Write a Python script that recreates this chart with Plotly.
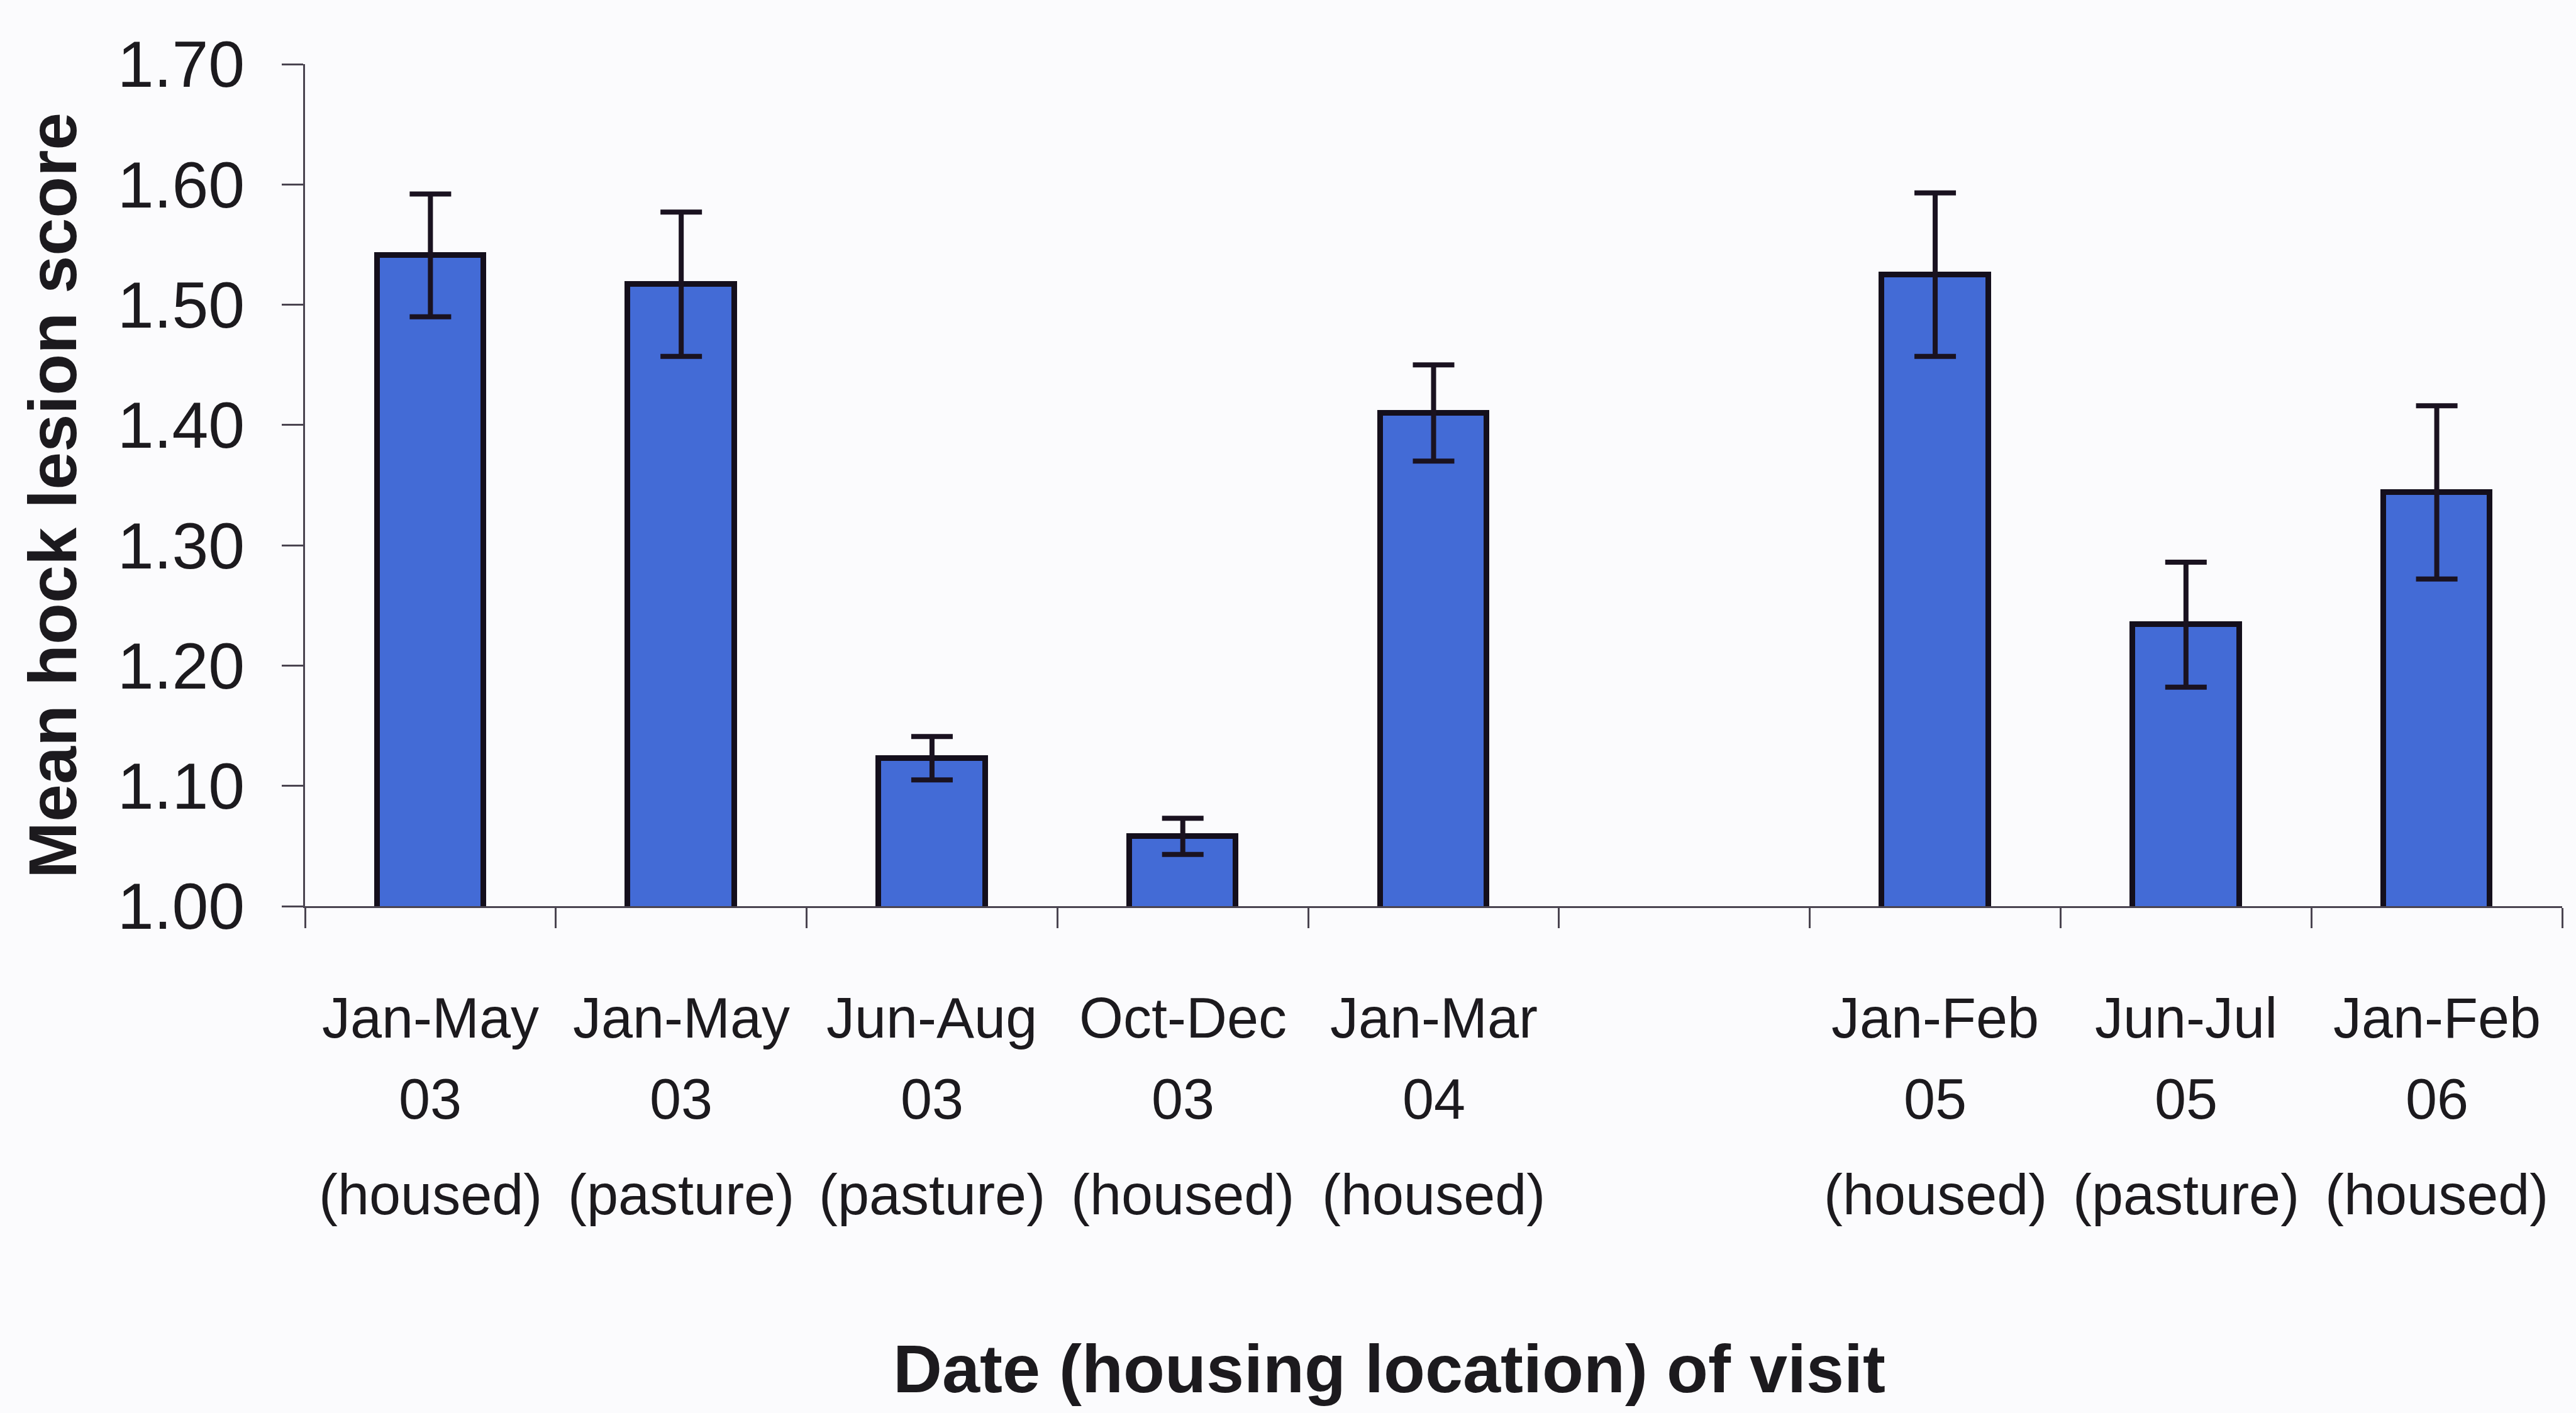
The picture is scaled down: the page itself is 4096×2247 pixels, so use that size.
import plotly.graph_objects as go

# ---- data ----
periods   = ["Jan-May", "Jan-May", "Jun-Aug", "Oct-Dec", "Jan-Mar", "", "Jan-Feb", "Jun-Jul", "Jan-Feb"]
years     = ["03", "03", "03", "03", "04", "", "05", "05", "06"]
locations = ["(housed)", "(pasture)", "(pasture)", "(housed)", "(housed)", "", "(housed)", "(pasture)", "(housed)"]
mean_score = [1.541, 1.517, 1.123, 1.058, 1.410, None, 1.525, 1.234, 1.344]
std_error  = [0.051, 0.060, 0.018, 0.015, 0.040, None, 0.068, 0.052, 0.072]
y_ticks = [1.00, 1.10, 1.20, 1.30, 1.40, 1.50, 1.60, 1.70]

labels = []
for i, (p, yy, loc) in enumerate(zip(periods, years, locations)):
    labels.append(f"{p} {yy} {loc}" if p else " " * (i + 1))

W, H = 4096, 2247
L, R, T, B = 485, 22, 102, 806
pw = W - L - R
ph = H - T - B
TEXT = "#1c1a1e"
AXIS = "#4a4450"
FONT = "Liberation Sans, Arial, sans-serif"


def py(ypx):
    """pixel row (from top) -> paper y"""
    return (H - B - ypx) / ph


fig = go.Figure()
fig.add_trace(go.Bar(
    x=labels, y=mean_score,
    width=0.425,
    marker=dict(color="#436bd6", line=dict(color="#140f1c", width=9)),
    error_y=dict(type="data", array=std_error, visible=True,
                 color="#1a1220", thickness=8, width=33),
    showlegend=False,
))

fig.update_layout(
    width=W, height=H,
    margin=dict(l=L, r=R, t=T, b=B, pad=0),
    paper_bgcolor="#fbfbfd", plot_bgcolor="#fbfbfd",
    font=dict(family=FONT, color=TEXT, size=104),
    bargap=0,
)
fig.update_xaxes(
    type="category", categoryorder="array", categoryarray=labels,
    tickson="boundaries", ticks="outside", ticklen=32, tickwidth=3, tickcolor=AXIS,
    showline=True, linecolor=AXIS, linewidth=3, showgrid=False, zeroline=False,
    showticklabels=False, automargin=False,
)
fig.update_yaxes(
    range=[1.0, 1.7], tickvals=y_ticks, tickformat=".2f",
    ticks="outside", ticklen=34, tickwidth=3, tickcolor=AXIS,
    showline=True, linecolor=AXIS, linewidth=3, showgrid=False, zeroline=False,
    tickfont=dict(family=FONT, size=104, color=TEXT),
    ticklabelstandoff=38, automargin=False,
)

# category labels: three lines under each bar
label_font = dict(family=FONT, size=90, color=TEXT)
line_centres = [1619, 1748, 1900]  # px rows of the three label lines
for cat, p, yy, loc in zip(labels, periods, years, locations):
    if not p:
        continue
    for txt, yc in zip([p, yy, loc], line_centres):
        fig.add_annotation(
            text=txt, xref="x", yref="paper", x=cat, y=py(yc),
            xanchor="center", yanchor="middle", showarrow=False,
            font=label_font,
        )

fig.add_annotation(
    text="<b>Mean hock lesion score</b>", textangle=-90,
    xref="paper", yref="paper", x=(84 - L) / pw, y=py(788),
    xanchor="center", yanchor="middle", showarrow=False,
    font=dict(family=FONT, size=108, color=TEXT),
)
fig.add_annotation(
    text="<b>Date (housing location) of visit</b>",
    xref="paper", yref="paper", x=(2209 - L) / pw, y=py(2176),
    xanchor="center", yanchor="middle", showarrow=False,
    font=dict(family=FONT, size=108, color=TEXT),
)

fig.write_html("out.html")
